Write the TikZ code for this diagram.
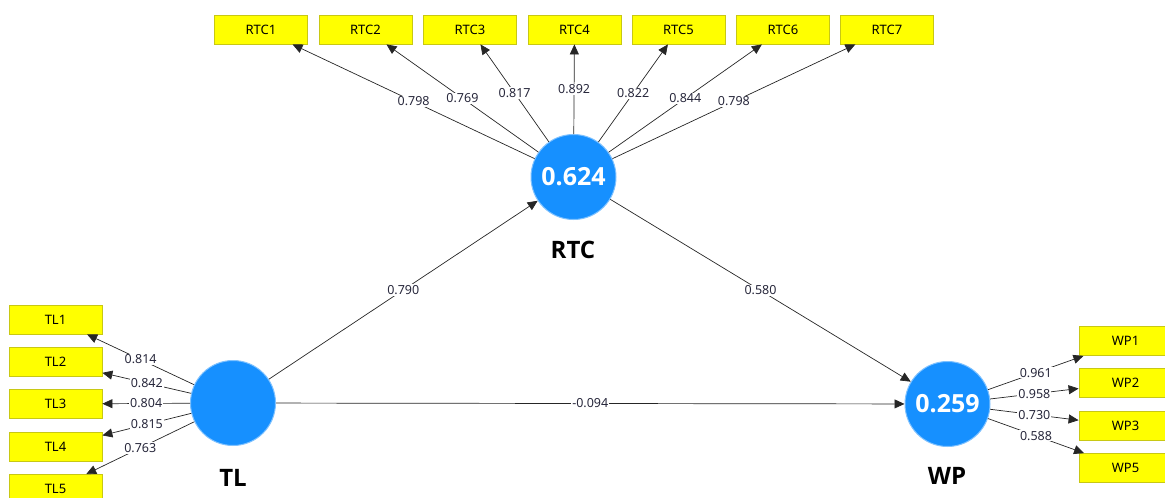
\documentclass[tikz,border=0pt]{standalone}
\usepackage{fontspec}
\setmainfont{Noto Sans}
\newfontfamily\lvfont{Open Sans}
\usetikzlibrary{arrows.meta}
\definecolor{lvblue}{RGB}{22,144,255}
\definecolor{indfill}{RGB}{255,255,0}
\definecolor{indborder}{RGB}{200,200,20}
\definecolor{labtext}{RGB}{40,40,60}
\begin{document}
\begin{tikzpicture}[x=1pt,y=-1pt,
  lv/.style={circle, fill=lvblue, draw=lvblue!55, line width=1pt, minimum size=85, inner sep=0pt, text=white, font=\lvfont\fontsize{25}{25}\selectfont\bfseries},
  indbox/.style={rectangle, fill=indfill, draw=indborder, line width=0.8pt, minimum width=93, minimum height=29, inner sep=0pt, font=\fontsize{13}{13}\selectfont},
  conn/.style={draw=black!85, line width=0.7pt, -{Triangle[length=10pt,width=9pt]}},
  wl/.style={fill=white, inner sep=1pt, font=\fontsize{12.5}{13}\selectfont, text=labtext},
  lvname/.style={font=\lvfont\fontsize{24}{24}\selectfont\bfseries}]
\useasboundingbox (0,0) rectangle (1165,498);
\clip (0,0) rectangle (1165,498);
% latent variables
\node[lv] (RTC) at (573.5,177) {0.624};
\node[lv] (TL) at (233,403) {};
\node[lv] (WP) at (947.5,404) {0.259};
\node[lvname] (RTCn) at (573,250) {RTC};
\node[lvname] (TLn) at (233,478) {TL};
\node[lvname] (WPn) at (947,476) {WP};
% RTC indicators
\node[indbox] (RTC1) at (261,29.5) {RTC1};
\node[indbox] (RTC2) at (365.5,29.5) {RTC2};
\node[indbox] (RTC3) at (470,29.5) {RTC3};
\node[indbox] (RTC4) at (574.5,29.5) {RTC4};
\node[indbox] (RTC5) at (678.5,29.5) {RTC5};
\node[indbox] (RTC6) at (783,29.5) {RTC6};
\node[indbox] (RTC7) at (887,29.5) {RTC7};
% TL indicators
\node[indbox] (TL1) at (55.5,319.5) {TL1};
\node[indbox] (TL2) at (55.5,362) {TL2};
\node[indbox] (TL3) at (55.5,404) {TL3};
\node[indbox] (TL4) at (55.5,447) {TL4};
\node[indbox] (TL5) at (55.5,489) {TL5};
% WP indicators
\node[indbox] (WP1) at (1125.5,341) {WP1};
\node[indbox] (WP2) at (1125.5,383) {WP2};
\node[indbox] (WP3) at (1125.5,426) {WP3};
\node[indbox] (WP5) at (1125.5,468) {WP5};
% RTC loadings
\draw[conn] (RTC) -- node[wl] {0.798} (RTC1);
\draw[conn] (RTC) -- node[wl] {0.769} (RTC2);
\draw[conn] (RTC) -- node[wl] {0.817} (RTC3);
\draw[conn] (RTC) -- node[wl] {0.892} (RTC4);
\draw[conn] (RTC) -- node[wl] {0.822} (RTC5);
\draw[conn] (RTC) -- node[wl] {0.844} (RTC6);
\draw[conn] (RTC) -- node[wl] {0.798} (RTC7);
% TL loadings
\draw[conn] (TL) -- node[wl] {0.814} (TL1);
\draw[conn] (TL) -- node[wl] {0.842} (TL2);
\draw[conn] (TL) -- node[wl] {0.804} (TL3);
\draw[conn] (TL) -- node[wl] {0.815} (TL4);
\draw[conn] (TL) -- node[wl] {0.763} (TL5);
% WP loadings
\draw[conn] (WP) -- node[wl] {0.961} (WP1);
\draw[conn] (WP) -- node[wl] {0.958} (WP2);
\draw[conn] (WP) -- node[wl] {0.730} (WP3);
\draw[conn] (WP) -- node[wl] {0.588} (WP5);
% structural paths
\draw[conn] (TL) -- node[wl] {0.790} (RTC);
\draw[conn] (RTC) -- node[wl] {0.580} (WP);
\draw[conn] (TL) -- node[wl] {-0.094} (WP);
\end{tikzpicture}
\end{document}
